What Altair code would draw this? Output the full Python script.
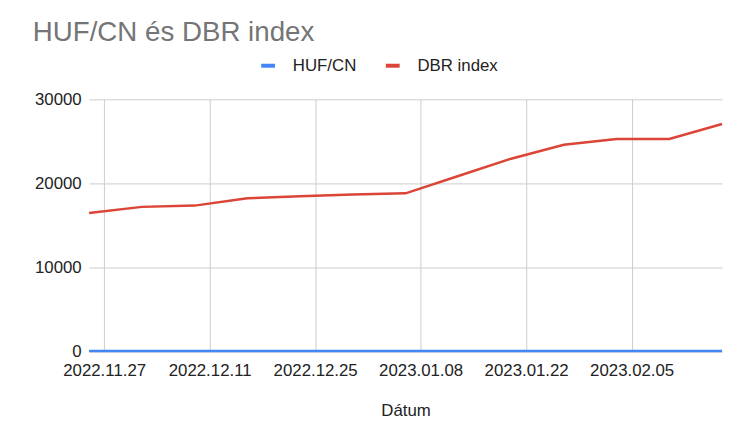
import altair as alt
import pandas as pd

dates = ["2022-11-25", "2022-12-02", "2022-12-09", "2022-12-16", "2022-12-23",
         "2022-12-30", "2023-01-06", "2023-01-13", "2023-01-20", "2023-01-27",
         "2023-02-03", "2023-02-10", "2023-02-17"]
huf_cn = [55.6, 55.0, 54.8, 54.5, 54.6, 54.3, 53.9, 53.1, 52.8, 51.8, 52.0, 52.3, 52.5]
dbr_index = [16470, 17210, 17360, 18240, 18470, 18680, 18820, 20880, 22940,
             24590, 25290, 25290, 27060]
series_names = ["HUF/CN", "DBR index"]
series_colors = ["#4285F4", "#DB4437"]
tick_dates = [(2022, 11, 27), (2022, 12, 11), (2022, 12, 25), (2023, 1, 8),
              (2023, 1, 22), (2023, 2, 5)]
y_ticks = [0, 10000, 20000, 30000]

rows = []
for d, v in zip(dates, huf_cn):
    rows.append({"Dátum": d + "T00:00:00", "value": v, "series": series_names[0]})
for d, v in zip(dates, dbr_index):
    rows.append({"Dátum": d + "T00:00:00", "value": v, "series": series_names[1]})
df = pd.DataFrame(rows)

font = "Arial, Liberation Sans, sans-serif"

chart = alt.Chart(df).mark_line(strokeWidth=2.5).encode(
    x=alt.X("Dátum:T",
            scale=alt.Scale(nice=False),
            axis=alt.Axis(
                title="Dátum",
                values=[alt.DateTime(year=y, month=m, date=d) for y, m, d in tick_dates],
                format="%Y.%m.%d",
                labelFont=font, labelFontSize=17, labelColor="#222222",
                titleFont=font, titleFontSize=17, titleFontWeight="normal",
                titleColor="#222222", titlePadding=25,
                domain=False, ticks=False, labelPadding=11,
                grid=True, gridColor="#cccccc", labelAngle=0,
            )),
    y=alt.Y("value:Q",
            scale=alt.Scale(domain=[0, 30000], nice=False),
            axis=alt.Axis(
                title=None, values=y_ticks, format="d",
                labelFont=font, labelFontSize=17, labelColor="#222222",
                domain=False, ticks=False, labelPadding=8,
                grid=True, gridColor="#cccccc",
            )),
    color=alt.Color("series:N",
                    scale=alt.Scale(domain=series_names, range=series_colors),
                    sort=series_names,
                    legend=alt.Legend(
                        title=None, orient="none", direction="horizontal",
                        legendX=172, legendY=-43,
                        symbolType="M-1,0H1", symbolStrokeWidth=4, symbolSize=196,
                        labelFont=font, labelFontSize=17, labelColor="#222222",
                        labelOffset=16, columnPadding=21,
                    )),
).properties(
    width=640, height=255,
    title=alt.TitleParams(
        "HUF/CN és DBR index", anchor="start", frame="group", dx=-57,
        font=font, fontSize=28, fontWeight="normal", color="#757575", offset=10,
    ),
    autosize="none",
    padding={"left": 82, "top": 90, "right": 6, "bottom": 80},
).configure_view(stroke=None)

chart.save("out.html", embed_options={"renderer": "svg", "actions": False})
